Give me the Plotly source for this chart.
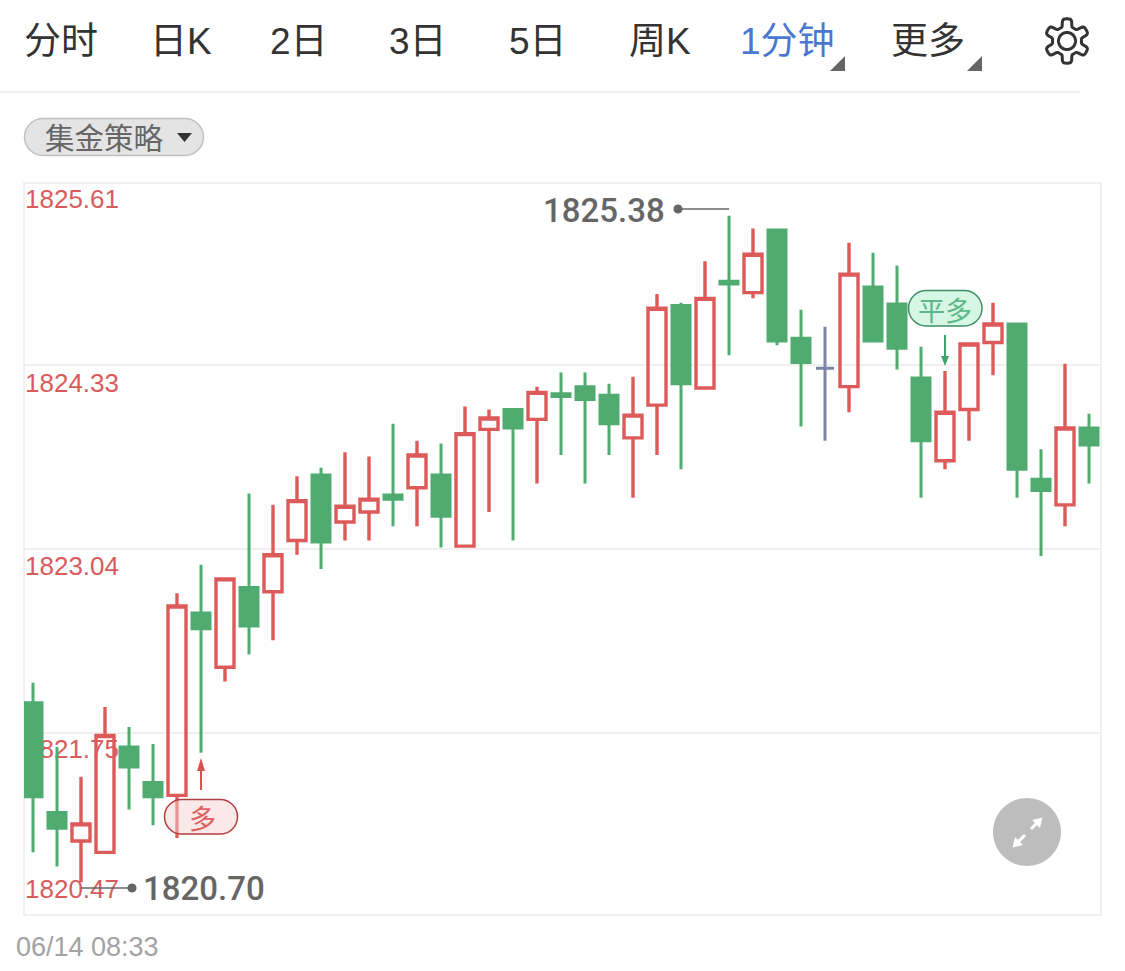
import numpy as np
import plotly.graph_objects as go

W, H = 1125, 971

# ---- data ----
OPEN = [1821.96,1821.19,1820.99,1820.91,1821.65,1821.40,1821.31,1822.59,1822.21,1822.77,1822.74,1823.10,1823.56,1823.23,1823.30,
        1823.42,1823.47,1823.56,1823.06,1823.88,1824.02,1823.95,1824.13,1824.18,1824.12,1823.82,1824.05,1824.75,1824.17,1824.92,
        1824.84,1825.28,1824.52,1824.31,1824.18,1824.88,1824.76,1824.24,1823.66,1824.02,1824.49,1824.62,1823.53,1823.35,1823.89]
CLOSE = [1821.30,1821.08,1821.11,1821.73,1821.51,1821.30,1822.64,1822.48,1822.83,1822.50,1823.00,1823.38,1823.09,1823.34,1823.39,
         1823.39,1823.70,1823.27,1823.85,1823.96,1823.89,1824.14,1824.11,1824.09,1823.92,1823.98,1824.73,1824.20,1824.80,1824.90,
         1825.11,1824.50,1824.35,1824.31,1824.97,1824.50,1824.45,1823.80,1824.00,1824.48,1824.62,1823.60,1823.45,1823.89,1823.77]
HIGH = [1822.10,1821.65,1821.44,1821.93,1821.79,1821.67,1822.73,1822.93,1822.83,1823.43,1823.35,1823.55,1823.61,1823.72,1823.69,
        1823.92,1823.80,1823.78,1824.04,1824.02,1824.02,1824.18,1824.28,1824.28,1824.20,1824.25,1824.83,1824.77,1825.06,1825.38,
        1825.29,1825.29,1824.72,1824.60,1825.19,1825.12,1825.03,1824.46,1824.29,1824.48,1824.77,1824.62,1823.74,1824.34,1823.99]
LOW = [1820.91,1820.81,1820.70,1820.91,1821.21,1821.10,1821.01,1821.61,1822.11,1822.30,1822.40,1823.00,1822.90,1823.10,1823.10,
       1823.20,1823.20,1823.05,1823.06,1823.30,1823.10,1823.50,1823.70,1823.50,1823.70,1823.40,1823.70,1823.60,1824.17,1824.40,
       1824.80,1824.47,1823.90,1823.80,1824.00,1824.50,1824.30,1823.40,1823.60,1823.80,1824.26,1823.40,1822.99,1823.20,1823.50]
DOJI_INDEX = [33]
GRID_VALUES = [1825.61, 1824.33, 1823.04, 1821.75, 1820.47]
AXIS_LABELS = ["1825.61", "1824.33", "1823.04", "1821.75", "1820.47"]
LABEL_POSITIONS = [1825.498, 1824.206, 1822.921, 1821.636, 1820.653]
TABS = ["分时", "日K", "2日", "3日", "5日", "周K", "1分钟", "更多"]
TAB_CENTERS = [61, 181, 299, 418, 538, 660, 787, 928]
HIGH_LABEL, LOW_LABEL = "1825.38", "1820.70"
DATE_LABEL = "06/14 08:33"

RED, GREEN, DOJI = "#dd5a5a", "#50ab70", "#7d84a8"
LATIN_CJK = "'Liberation Sans', 'Noto Sans CJK SC', sans-serif"
CJK = "'Noto Sans CJK SC', sans-serif"


def px(x):
    return x / W


def py(y):
    return 1 - y / H


def poly(points, close=True):
    s = "M " + " L ".join(f"{px(x):.5f},{py(y):.5f}" for x, y in points)
    return s + (" Z" if close else "")


def pill(x0, y0, x1, y1):
    r = (y1 - y0) / 2
    k = r * 0.45
    p = lambda x, y: f"{px(x):.5f},{py(y):.5f}"
    return (f"M {p(x0 + r, y0)} L {p(x1 - r, y0)} C {p(x1 - k, y0)} {p(x1, y0 + k)} {p(x1, y0 + r)} "
            f"C {p(x1, y1 - k)} {p(x1 - k, y1)} {p(x1 - r, y1)} L {p(x0 + r, y1)} "
            f"C {p(x0 + k, y1)} {p(x0, y1 - k)} {p(x0, y0 + r)} C {p(x0, y0 + k)} {p(x0 + k, y0)} {p(x0 + r, y0)} Z")


shapes, annotations = [], []


def shape_path(path, fill="rgba(0,0,0,0)", line=None, lw=0, layer="above"):
    shapes.append(dict(type="path", xref="paper", yref="paper", path=path, fillcolor=fill,
                       line=dict(color=line or "rgba(0,0,0,0)", width=lw), layer=layer))


def text(x, y, s, size, color, anchor="center", family=LATIN_CJK, weight=None):
    annotations.append(dict(xref="paper", yref="paper", x=px(x), y=py(y), text=s, showarrow=False,
                            xanchor=anchor, yanchor="middle", borderpad=0,
                            font=dict(size=size, color=color, family=family, weight=weight)))


# ---- header ----
for label, cx in zip(TABS, TAB_CENTERS):
    text(cx, 41, label, 37, "#4a78d0" if label == "1分钟" else "#333333")
for rx in (845, 982):
    shape_path(poly([(rx, 56), (rx - 15, 71), (rx, 71)]), fill="#666666")
shape_path(poly([(0, 92), (1080, 92)], close=False), line="#f0f0f0", lw=2)

# gear icon
theta = np.linspace(0, 2 * np.pi, 181)[:-1]
radius = 18.3 + 3.9 * np.tanh(2.6 * np.cos(6 * (theta - np.pi / 2)))
shape_path(poly(list(zip(1067 + radius * np.cos(theta), 41 + radius * np.sin(theta)))), line="#333333", lw=3)
theta2 = np.linspace(0, 2 * np.pi, 61)[:-1]
shape_path(poly(list(zip(1067 + 8.5 * np.cos(theta2), 41 + 8.5 * np.sin(theta2)))), line="#333333", lw=3)

# strategy pill
shape_path(pill(24.5, 118.5, 203.5, 155.5), fill="#e4e4e4", line="#c0c0c0", lw=1.5)
text(104, 136, "集金策略", 29.5, "#666666", family=CJK)
shape_path(poly([(177, 133), (192, 133), (184.5, 142)]), fill="#333333")

# plot frame
shape_path(poly([(24, 183), (1101, 183), (1101, 915), (24, 915)]), line="#f0f0f0", lw=2, layer="below")

# high / low markers
shape_path(poly([(678, 209), (729, 209)], close=False), line="#666666", lw=1.5)
shape_path(poly([(81, 888), (132, 888)], close=False), line="#666666", lw=1.5)
for cx, cy in ((678, 209), (132, 888)):
    t = np.linspace(0, 2 * np.pi, 25)[:-1]
    shape_path(poly(list(zip(cx + 4.5 * np.cos(t), cy + 4.5 * np.sin(t)))), fill="#666666")
text(666, 210, HIGH_LABEL, 33, "#666666", anchor="right", family="Roboto, sans-serif", weight=500)
text(142, 888, LOW_LABEL, 33, "#666666", anchor="left", family="Roboto, sans-serif", weight=500)

# long signal
shape_path(pill(164.5, 799.5, 237.5, 834), fill="rgba(248,210,210,0.5)", line="#b24040", lw=1.5)
text(202, 817, "多", 27, "#e06060", family=CJK)
shape_path(poly([(201, 790), (201, 770)], close=False), line="#dd5050", lw=2)
shape_path(poly([(197, 771), (205, 771), (201, 758)]), fill="#dd5050")

# close-long signal
shape_path(pill(908.5, 290.5, 982, 326), fill="#d5f7e4", line="#3f8f63", lw=1.5)
text(945, 309, "平多", 27, "#5cb88a", family=CJK)
shape_path(poly([(945, 335), (945, 357)], close=False), line="#3fa46c", lw=2)
shape_path(poly([(941, 356), (949, 356), (945, 366)]), fill="#3fa46c")

# expand button
t = np.linspace(0, 2 * np.pi, 73)[:-1]
shape_path(poly(list(zip(1027 + 34 * np.cos(t), 832 + 34 * np.sin(t)))), fill="#bdbdbd")
shape_path(poly([(1031, 829), (1037, 823)], close=False), line="white", lw=3)
shape_path(poly([(1042.5, 817.5), (1032, 820), (1040, 828)]), fill="white")
shape_path(poly([(1025, 835), (1019, 841)], close=False), line="white", lw=3)
shape_path(poly([(1012.5, 847.5), (1023, 845), (1015, 837)]), fill="white")

# date
text(14.5, 947, DATE_LABEL, 27, "#a3a3a3", anchor="left")

# ---- traces ----
idx = list(range(len(OPEN)))


def subset(arr, keep):
    return [v if i in keep else None for i, v in enumerate(arr)]


main = set(idx) - set(DOJI_INDEX)
fig = go.Figure()
fig.add_trace(go.Candlestick(
    x=idx, open=subset(OPEN, main), high=subset(HIGH, main), low=subset(LOW, main), close=subset(CLOSE, main),
    whiskerwidth=0, hoverinfo="skip",
    increasing=dict(line=dict(color=RED, width=3.4), fillcolor="rgba(0,0,0,0)"),
    decreasing=dict(line=dict(color=GREEN, width=3), fillcolor=GREEN),
    showlegend=False))
doji = set(DOJI_INDEX)
fig.add_trace(go.Candlestick(
    x=idx, open=subset(OPEN, doji), high=subset(HIGH, doji), low=subset(LOW, doji), close=subset(CLOSE, doji),
    whiskerwidth=0, hoverinfo="skip",
    increasing=dict(line=dict(color=DOJI, width=3), fillcolor=DOJI),
    decreasing=dict(line=dict(color=DOJI, width=3), fillcolor=DOJI),
    showlegend=False))
fig.add_trace(go.Scatter(x=[0], y=[GRID_VALUES[0]], yaxis="y2", mode="markers", marker=dict(opacity=0),
                         hoverinfo="skip", showlegend=False))

domain_x = [px(24), px(1101)]
domain_y = [py(915), py(183)]
y_range = [GRID_VALUES[-1], GRID_VALUES[0]]
fig.update_layout(
    width=W, height=H, margin=dict(l=0, r=0, t=0, b=0), paper_bgcolor="white", plot_bgcolor="white",
    boxmode="overlay", boxgap=0.25, boxgroupgap=0,
    xaxis=dict(domain=domain_x, range=[-0.375, 44.5], showgrid=False, zeroline=False, showticklabels=False,
               ticks="", rangeslider=dict(visible=False), fixedrange=True),
    yaxis=dict(domain=domain_y, range=y_range, tickmode="array", tickvals=GRID_VALUES, showticklabels=False,
               gridcolor="#f0f0f0", gridwidth=2, zeroline=False, ticks="", fixedrange=True),
    yaxis2=dict(overlaying="y", side="left", anchor="free", position=px(21), range=y_range, tickmode="array",
                tickvals=LABEL_POSITIONS, ticktext=AXIS_LABELS, ticklabelposition="inside", showgrid=False,
                zeroline=False, ticks="", layer="below traces", fixedrange=True,
                tickfont=dict(size=26, color="#d95c5c", family="'Liberation Sans', sans-serif")),
    shapes=shapes, annotations=annotations, dragmode=False, hovermode=False,
)
fig.write_html("out.html", config=dict(displayModeBar=False, staticPlot=True),
               post_script="document.body.style.margin='0';document.documentElement.style.overflow='hidden';")
